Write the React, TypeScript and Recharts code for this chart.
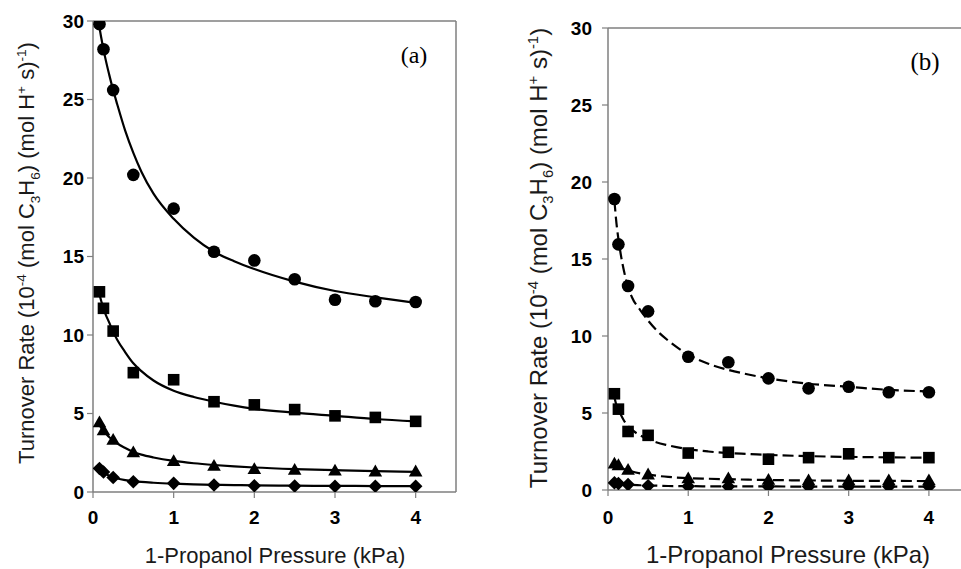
import React from 'react';
import { ComposedChart, Line, Scatter, XAxis, YAxis, ReferenceLine, Label } from 'recharts';

// ---------- shared ticks ----------
const xTicks = [0, 1, 2, 3, 4];
const yTicks = [0, 5, 10, 15, 20, 25, 30];

// ---------- panel (a): measured points ----------
const pressureA = [0.08, 0.13, 0.25, 0.5, 1, 1.5, 2, 2.5, 3, 3.5, 4];
const circlesA = [29.8, 28.2, 25.6, 20.2, 18.05, 15.3, 14.75, 13.55, 12.25, 12.15, 12.1];
const squaresA = [12.75, 11.7, 10.25, 7.6, 7.15, 5.75, 5.55, 5.25, 4.85, 4.75, 4.5];
const trianglesA = [4.43, 3.92, 3.32, 2.52, 1.96, 1.66, 1.45, 1.4, 1.35, 1.3, 1.3];
const diamondsA = [1.5, 1.27, 0.92, 0.65, 0.55, 0.45, 0.4, 0.38, 0.37, 0.37, 0.37];

// ---------- panel (a): fitted curves ----------
const fitPressureA = [0.07, 0.1, 0.15, 0.2, 0.25, 0.3, 0.4, 0.5, 0.6, 0.75, 1, 1.25, 1.5, 1.75, 2, 2.5, 3, 3.5, 4];
const fitCirclesA = [29.9, 29.0, 27.7, 26.6, 25.6, 24.7, 23.0, 21.6, 20.4, 19.0, 17.4, 16.2, 15.3, 14.7, 14.2, 13.4, 12.8, 12.4, 12.05];
const fitSquaresA = [12.8, 12.2, 11.4, 10.8, 10.2, 9.7, 8.9, 8.2, 7.7, 7.1, 6.45, 6.05, 5.75, 5.5, 5.3, 5.05, 4.85, 4.65, 4.5];
const fitTrianglesA = [4.4, 4.1, 3.8, 3.5, 3.3, 3.1, 2.8, 2.55, 2.38, 2.2, 1.98, 1.83, 1.72, 1.63, 1.56, 1.46, 1.39, 1.33, 1.28];
const fitDiamondsA = [1.5, 1.36, 1.18, 1.04, 0.93, 0.86, 0.76, 0.69, 0.64, 0.59, 0.53, 0.49, 0.46, 0.44, 0.42, 0.4, 0.39, 0.38, 0.37];

// ---------- panel (b): measured points ----------
const pressureB = [0.08, 0.13, 0.25, 0.5, 1, 1.5, 2, 2.5, 3, 3.5, 4];
const circlesB = [18.9, 15.95, 13.25, 11.6, 8.65, 8.3, 7.25, 6.6, 6.7, 6.35, 6.35];
const squaresB = [6.25, 5.25, 3.8, 3.55, 2.4, 2.45, 2.0, 2.1, 2.35, 2.1, 2.1];
const trianglesB = [1.7, 1.6, 1.3, 1.0, 0.75, 0.75, 0.65, 0.62, 0.62, 0.62, 0.62];
const diamondsB = [0.47, 0.42, 0.35, 0.28, 0.24, 0.23, 0.22, 0.22, 0.22, 0.22, 0.22];

// ---------- panel (b): fitted curves ----------
const fitPressureB = [0.08, 0.1, 0.15, 0.2, 0.25, 0.3, 0.4, 0.5, 0.6, 0.75, 1, 1.25, 1.5, 1.75, 2, 2.5, 3, 3.5, 4];
const fitCirclesB = [18.8, 17.6, 15.6, 14.2, 13.2, 12.5, 11.7, 11.0, 10.4, 9.7, 8.8, 8.2, 7.8, 7.5, 7.25, 6.9, 6.7, 6.5, 6.4];
const fitSquaresB = [6.0, 5.6, 5.0, 4.5, 4.15, 3.9, 3.55, 3.3, 3.1, 2.9, 2.65, 2.5, 2.4, 2.34, 2.28, 2.2, 2.15, 2.12, 2.1];
const fitTrianglesB = [1.6, 1.55, 1.45, 1.36, 1.28, 1.2, 1.08, 1.0, 0.93, 0.85, 0.77, 0.73, 0.7, 0.67, 0.65, 0.62, 0.6, 0.59, 0.58];
const fitDiamondsB = [0.45, 0.44, 0.41, 0.38, 0.35, 0.33, 0.31, 0.29, 0.28, 0.26, 0.25, 0.24, 0.24, 0.23, 0.23, 0.22, 0.22, 0.22, 0.22];

const xTitle = '1-Propanol Pressure (kPa)';

const toPts = (xs: number[], ys: number[]) => xs.map((x, i) => ({ x, y: ys[i] }));

const SANS = '"Liberation Sans", Arial, sans-serif';
const SERIF = '"Liberation Serif", "Times New Roman", serif';
const FRAME = '#7f7f7f';

const circleShape = (p: any) => <circle cx={p.cx} cy={p.cy} r={6.3} fill="#000" />;
const squareShape = (p: any) => (
  <rect x={p.cx - 5.8} y={p.cy - 5.8} width={11.6} height={11.6} fill="#000" />
);
const triangleShape = (p: any) => (
  <polygon
    points={`${p.cx},${p.cy - 7} ${p.cx + 6.8},${p.cy + 4.8} ${p.cx - 6.8},${p.cy + 4.8}`}
    fill="#000"
  />
);
const diamondShape = (p: any) => (
  <polygon
    points={`${p.cx},${p.cy - 6.8} ${p.cx + 6.8},${p.cy} ${p.cx},${p.cy + 6.8} ${p.cx - 6.8},${p.cy}`}
    fill="#000"
  />
);

const YTitle = ({ x, y, size }: { x: number; y: number; size: number }) => {
  const sup = -size * 0.38;
  const sub = size * 0.25;
  const small = size * 0.62;
  return (
    <text
      x={x}
      y={y}
      transform={`rotate(-90 ${x} ${y})`}
      textAnchor="middle"
      fontFamily={SANS}
      fontSize={size}
      fill="#1a1a1a"
    >
      <tspan>Turnover Rate (10</tspan>
      <tspan dy={sup} fontSize={small}>-4</tspan>
      <tspan dy={-sup}> (mol C</tspan>
      <tspan dy={sub} fontSize={small}>3</tspan>
      <tspan dy={-sub}>H</tspan>
      <tspan dy={sub} fontSize={small}>6</tspan>
      <tspan dy={-sub}>) (mol H</tspan>
      <tspan dy={sup} fontSize={small}>+</tspan>
      <tspan dy={-sup}> s)</tspan>
      <tspan dy={sup} fontSize={small}>-1</tspan>
      <tspan dy={-sup}>)</tspan>
    </text>
  );
};

type PanelProps = {
  left: number;
  width: number;
  top: number;
  yAxisWidth: number;
  xAxisHeight: number;
  rightMargin: number;
  xMax: number;
  dashed: boolean;
  rightBorder: boolean;
  yTickMargin: number;
  xTickMargin: number;
  tickSizeFont: number;
  titleSize: number;
  yTitleX: number;
  yTitleY: number;
  xTitleX: number;
  xTitleY: number;
  tag: string;
  tagX: number;
  tagY: number;
  tagSize: number;
  px: number[];
  circles: number[];
  squares: number[];
  triangles: number[];
  diamonds: number[];
  fx: number[];
  fCircles: number[];
  fSquares: number[];
  fTriangles: number[];
  fDiamonds: number[];
};

const Panel = (p: PanelProps) => {
  const dash = p.dashed ? '11 5' : undefined;
  const fits = [p.fCircles, p.fSquares, p.fTriangles, p.fDiamonds];
  const pts = [
    { ys: p.circles, shape: circleShape },
    { ys: p.squares, shape: squareShape },
    { ys: p.triangles, shape: triangleShape },
    { ys: p.diamonds, shape: diamondShape },
  ];
  const tickStyle = { fill: '#000', fontSize: p.tickSizeFont, fontWeight: 700, fontFamily: SANS };
  const tagLabel = (
    <Label
      content={() => (
        <text
          x={p.tagX}
          y={p.tagY}
          textAnchor="middle"
          fontFamily={SERIF}
          fontSize={p.tagSize}
          fill="#000"
        >
          {p.tag}
        </text>
      )}
    />
  );
  return (
    <div style={{ position: 'absolute', left: p.left, top: 0 }}>
      <ComposedChart
        width={p.width}
        height={569}
        margin={{ top: p.top, right: p.rightMargin, bottom: 0, left: 0 }}
      >
        <XAxis
          type="number"
          dataKey="x"
          domain={[0, p.xMax]}
          ticks={xTicks}
          height={p.xAxisHeight}
          axisLine={{ stroke: FRAME, strokeWidth: 1.5 }}
          tickLine={{ stroke: FRAME, strokeWidth: 1.2 }}
          tickSize={6}
          tickMargin={p.xTickMargin}
          tick={tickStyle}
          allowDataOverflow
        >
          <Label
            content={() => (
              <text
                x={p.xTitleX}
                y={p.xTitleY}
                textAnchor="middle"
                fontFamily={SANS}
                fontSize={p.titleSize}
                fill="#1a1a1a"
              >
                {xTitle}
              </text>
            )}
          />
        </XAxis>
        <YAxis
          type="number"
          dataKey="y"
          domain={[0, 30]}
          ticks={yTicks}
          width={p.yAxisWidth}
          axisLine={{ stroke: FRAME, strokeWidth: 1.5 }}
          tickLine={{ stroke: FRAME, strokeWidth: 1.2 }}
          tickSize={6}
          tickMargin={p.yTickMargin}
          tick={tickStyle}
          allowDataOverflow
        >
          <Label content={() => <YTitle x={p.yTitleX} y={p.yTitleY} size={p.titleSize} />} />
        </YAxis>
        <ReferenceLine y={30} stroke={FRAME} strokeWidth={1.5} label={tagLabel} />
        {p.rightBorder && <ReferenceLine x={p.xMax} stroke={FRAME} strokeWidth={1.5} />}
        {fits.map((ys, i) => (
          <Line
            key={`fit${i}`}
            data={toPts(p.fx, ys)}
            dataKey="y"
            type="monotone"
            stroke="#000"
            strokeWidth={2.2}
            strokeDasharray={dash}
            dot={false}
            activeDot={false}
            isAnimationActive={false}
          />
        ))}
        {pts.map((s, i) => (
          <Scatter
            key={`pts${i}`}
            data={toPts(p.px, s.ys)}
            dataKey="y"
            shape={s.shape}
            isAnimationActive={false}
          />
        ))}
      </ComposedChart>
    </div>
  );
};

export default function App() {
  return (
    <div
      style={{
        position: 'absolute',
        left: 0,
        top: 0,
        width: 961,
        height: 569,
        overflow: 'hidden',
        background: '#fff',
      }}
    >
      <Panel
        left={0}
        width={480}
        top={21}
        yAxisWidth={93}
        xAxisHeight={77}
        rightMargin={24}
        xMax={4.5}
        dashed={false}
        rightBorder={true}
        yTickMargin={3}
        xTickMargin={13}
        tickSizeFont={19}
        titleSize={22}
        yTitleX={34}
        yTitleY={253}
        xTitleX={275}
        xTitleY={563}
        tag="(a)"
        tagX={414}
        tagY={63}
        tagSize={24}
        px={pressureA}
        circles={circlesA}
        squares={squaresA}
        triangles={trianglesA}
        diamonds={diamondsA}
        fx={fitPressureA}
        fCircles={fitCirclesA}
        fSquares={fitSquaresA}
        fTriangles={fitTrianglesA}
        fDiamonds={fitDiamondsA}
      />
      <Panel
        left={480}
        width={481}
        top={28}
        yAxisWidth={128}
        xAxisHeight={79}
        rightMargin={0}
        xMax={4.4}
        dashed={true}
        rightBorder={false}
        yTickMargin={10}
        xTickMargin={15}
        tickSizeFont={19}
        titleSize={24}
        yTitleX={67}
        yTitleY={258}
        xTitleX={308}
        xTitleY={563}
        tag="(b)"
        tagX={445}
        tagY={70}
        tagSize={25}
        px={pressureB}
        circles={circlesB}
        squares={squaresB}
        triangles={trianglesB}
        diamonds={diamondsB}
        fx={fitPressureB}
        fCircles={fitCirclesB}
        fSquares={fitSquaresB}
        fTriangles={fitTrianglesB}
        fDiamonds={fitDiamondsB}
      />
    </div>
  );
}
